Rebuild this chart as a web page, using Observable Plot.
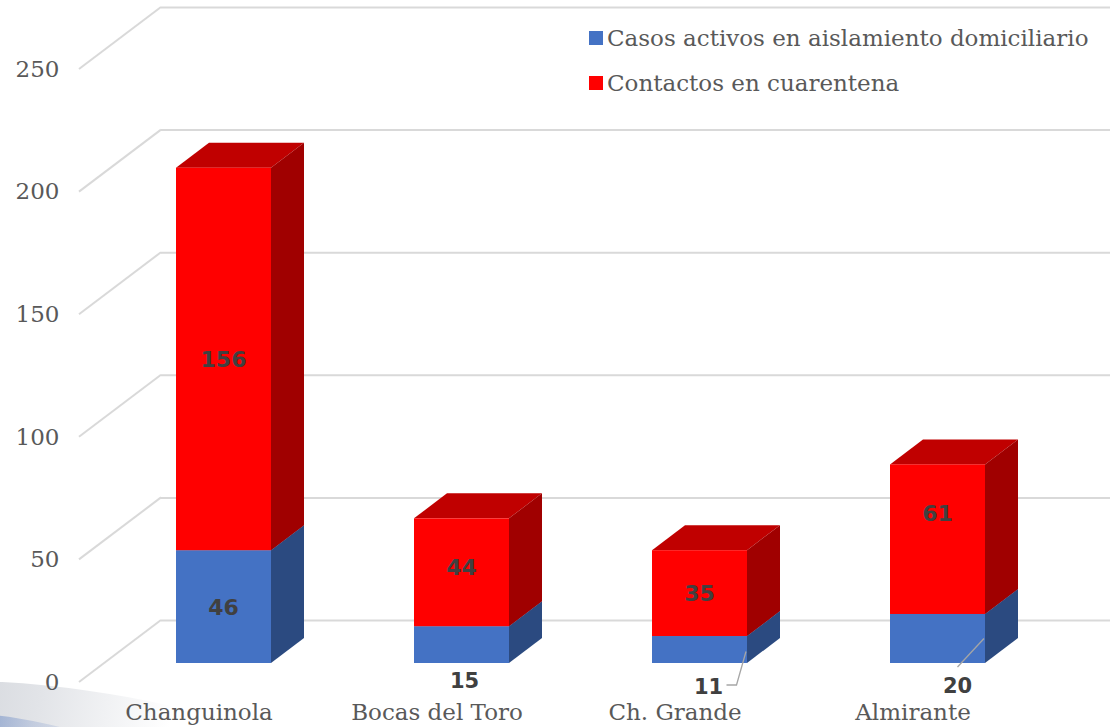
<!DOCTYPE html>
<html><head><meta charset="utf-8">
<script src="https://cdn.jsdelivr.net/npm/d3@7"></script>
<script src="https://cdn.jsdelivr.net/npm/@observablehq/plot@0.6"></script>
<style>
body{margin:0;background:#fff;}
#wrap{position:relative;width:1110px;height:727px;overflow:hidden;background:#fff;}
#wrap svg{position:absolute;left:0;top:0;}
.swoosh{position:absolute;left:-140px;top:690px;width:440px;height:90px;border-radius:50%;
  transform:rotate(8deg);background:linear-gradient(to right,#c4c8cf 0%,#e2e4e8 40%,rgba(255,255,255,0) 70%);}
.swoosh2{position:absolute;left:-70px;top:718px;width:170px;height:30px;border-radius:50%;
  transform:rotate(9deg);background:linear-gradient(to right,#6d8cc4 0%,rgba(150,170,210,0.4) 60%,rgba(255,255,255,0) 100%);}
.legend{position:absolute;left:589px;top:15px;font-family:"DejaVu Serif",serif;font-size:23px;color:#595959;}
.legend .row{display:flex;align-items:center;height:45px;white-space:nowrap;}
.legend .sw{display:inline-block;width:14px;height:14px;margin-right:4px;}
</style></head><body><div id="wrap"><div class="swoosh"></div><div class="swoosh2"></div></div>
<script>
// ---- data ----
const regions = ["Changuinola", "Bocas del Toro", "Ch. Grande", "Almirante"];
const activos = [46, 15, 11, 20];
const contactos = [156, 44, 35, 61];
const series = ["Casos activos en aislamiento domiciliario", "Contactos en cuarentena"];
const yTicks = [0, 50, 100, 150, 200, 250];

// ---- style ----
const frontColors = ["#4472C4", "#FF0000"];
const topColors = ["#3A62AA", "#C00000"];
const sideColors = ["#2B4A80", "#A00000"];
const WALL = {dx: 82, dy: -62};      // depth of back wall
const FRONT = {dx: 25, dy: -19};     // bar front face offset from axis plane
const DEPTH = {dx: 33, dy: -25};     // bar depth
const gridColor = "#d9d9d9";
const textColor = "#595959";
const labelColor = "#404040";
// label nudges (as placed in the original chart)
const labelNudge = {"Bocas del Toro": -5, "Almirante": -26};
// callout placement for small segments (offsets from band centre at y=0)
const callouts = {
  "Bocas del Toro": {dx: 28, dy: -2, leader: false},
  "Ch. Grande": {dx: 34, dy: 4, leader: "elbow"},
  "Almirante": {dx: 45, dy: 3, leader: "straight"}
};

const data = regions.flatMap((r, i) => [
  {region: r, series: series[0], value: activos[i]},
  {region: r, series: series[1], value: contactos[i]}
]);
const small = data.filter(d => d.value < 30);

function diagGrid(index, scales, values, dims) {
  const g = d3.create("svg:g").attr("stroke", gridColor).attr("stroke-width", 2).attr("fill", "none");
  for (const i of index) {
    const y = scales.y(yTicks[i]);
    const x = dims.marginLeft;
    g.append("path").attr("d", `M${x},${y}L${x + WALL.dx},${y + WALL.dy}`);
  }
  return g.node();
}

function bars3d(index, scales, values) {
  const g = d3.create("svg:g");
  const bw = scales.x.bandwidth();
  for (const i of index) {
    const k = series.indexOf(data[i].series);
    const x0 = values.x[i] + FRONT.dx, x1 = x0 + bw;
    const yb = Math.max(values.y1[i], values.y2[i]) + FRONT.dy;
    const yt = Math.min(values.y1[i], values.y2[i]) + FRONT.dy;
    const {dx, dy} = DEPTH;
    g.append("path").attr("fill", topColors[k])
      .attr("d", `M${x0},${yt}L${x1},${yt}L${x1 + dx},${yt + dy}L${x0 + dx},${yt + dy}Z`);
    g.append("path").attr("fill", sideColors[k])
      .attr("d", `M${x1},${yb}L${x1},${yt}L${x1 + dx},${yt + dy}L${x1 + dx},${yb + dy}Z`);
    g.append("rect").attr("fill", frontColors[k])
      .attr("x", x0).attr("y", yt).attr("width", bw).attr("height", yb - yt);
  }
  return g.node();
}

function labels3d(index, scales, values) {
  const g = d3.create("svg:g").attr("text-anchor", "middle").attr("fill", labelColor)
    .attr("font-family", "DejaVu Sans").attr("font-weight", "bold").attr("font-size", 22);
  const bw = scales.x.bandwidth();
  for (const i of index) {
    const d = data[i];
    if (d.value < 30) continue;
    const nudge = d.series === series[1] ? (labelNudge[d.region] || 0) : 0;
    g.append("text")
      .attr("x", values.x[i] + bw / 2 + FRONT.dx)
      .attr("y", values.y[i] + FRONT.dy + nudge)
      .attr("dy", "0.36em")
      .text(d.value);
  }
  return g.node();
}

function calloutMark(index, scales, values) {
  const g = d3.create("svg:g");
  const bw = scales.x.bandwidth();
  for (const i of index) {
    const d = small[i];
    const c = callouts[d.region];
    if (!c) continue;
    const cx = scales.x(d.region) + bw / 2;
    const y0 = scales.y(0);
    const tx = cx + c.dx, ty = y0 + c.dy;
    // end of leader: front-right edge, middle of segment
    const ex = scales.x(d.region) + FRONT.dx + bw;
    const ey = (scales.y(0) + scales.y(d.value)) / 2 + FRONT.dy;
    if (c.leader === "elbow") {
      g.append("path").attr("fill", "none").attr("stroke", "#a6a6a6").attr("stroke-width", 1.3)
        .attr("d", `M${tx + 18},${ty - 1}L${tx + 28},${ty - 1}L${ex - 1},${ey + 2}`);
    } else if (c.leader === "straight") {
      g.append("path").attr("fill", "none").attr("stroke", "#a6a6a6").attr("stroke-width", 1.3)
        .attr("d", `M${tx},${ty - 18}L${ex - 1},${ey}`);
    }
    g.append("text").attr("x", tx).attr("y", ty).attr("dy", "0.36em")
      .attr("text-anchor", "middle").attr("fill", labelColor)
      .attr("font-family", "DejaVu Sans").attr("font-weight", "bold").attr("font-size", 21)
      .text(d.value);
  }
  return g.node();
}

const chart = Plot.plot({
  width: 1110,
  height: 727,
  marginLeft: 79,
  marginRight: 78,
  marginTop: 69,
  marginBottom: 45,
  style: {fontFamily: "DejaVu Serif", fontSize: "23px", color: textColor, background: "transparent"},
  x: {type: "band", domain: regions, range: [79, 1032], paddingInner: 0.6, paddingOuter: 0.3, label: null},
  y: {domain: [0, 250], range: [682, 69], label: null},
  marks: [
    Plot.ruleY(yTicks, {dx: WALL.dx, dy: WALL.dy, stroke: gridColor, strokeWidth: 2}),
    Plot.ruleY(yTicks, {render: diagGrid}),
    Plot.axisY({ticks: yTicks, tickSize: 0, tickPadding: 20, fontSize: 23, fill: textColor, label: null}),
    Plot.axisX({tickSize: 0, tickPadding: 21, fontSize: 23, fill: textColor, label: null}),
    Plot.barY(data, Plot.stackY({x: "region", y: "value", fill: "series", render: bars3d})),
    Plot.text(data, Plot.stackY({x: "region", y: "value", text: "value", render: labels3d})),
    Plot.dot(small, {x: "region", y: 0, r: 0, render: calloutMark})
  ]
});

const wrap = document.getElementById("wrap");
wrap.appendChild(chart);

const legend = document.createElement("div");
legend.className = "legend";
series.forEach((s, k) => {
  const row = document.createElement("div");
  row.className = "row";
  const sw = document.createElement("span");
  sw.className = "sw";
  sw.style.background = frontColors[k];
  row.appendChild(sw);
  row.appendChild(document.createTextNode(s));
  legend.appendChild(row);
});
wrap.appendChild(legend);
</script></body></html>
